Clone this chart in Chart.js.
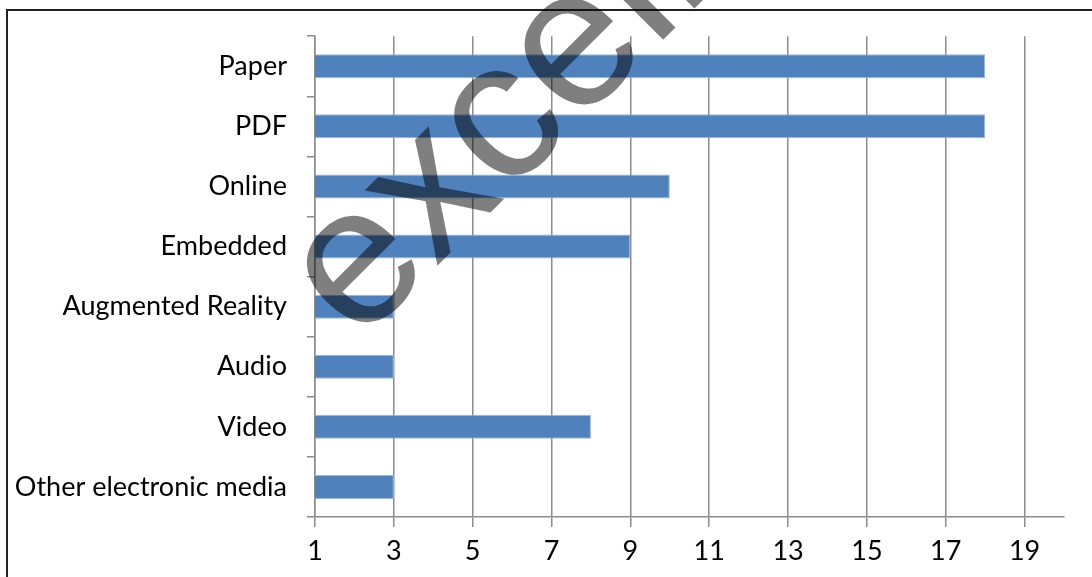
<!DOCTYPE html>
<html>
<head>
<meta charset="utf-8">
<script src="https://cdn.jsdelivr.net/npm/chart.js@4.4.0/dist/chart.umd.min.js"></script>
<style>
  html, body { margin: 0; padding: 0; background: #fff; }
  #wrap { width: 1092px; height: 577px; position: relative; }
</style>
</head>
<body>
<div id="wrap"><canvas id="myChart" width="1092" height="577"></canvas></div>
<script>
const categories = ['Paper', 'PDF', 'Online', 'Embedded', 'Augmented Reality', 'Audio', 'Video', 'Other electronic media'];
const counts = [18, 18, 10, 9, 3, 3, 8, 3];
const xTicks = [1, 3, 5, 7, 9, 11, 13, 15, 17, 19];
const watermark = 'excelnotes';

// frame + watermark drawn straight on the canvas
const extras = {
  id: 'extras',
  beforeDraw(chart) {
    const c = chart.ctx;
    c.save();
    c.fillStyle = '#fff';
    c.fillRect(0, 0, chart.width, chart.height);
    c.restore();
  },
  afterDraw(chart) {
    const c = chart.ctx;
    c.save();
    c.strokeStyle = '#222';
    c.lineWidth = 2;
    c.beginPath();
    c.moveTo(7, chart.height);
    c.lineTo(7, 10);
    c.lineTo(chart.width, 10);
    c.stroke();

    c.translate(358, 345);
    c.rotate(-Math.PI / 4);
    c.font = '198px "Liberation Sans", Arial, sans-serif';
    c.fillStyle = 'rgba(0,0,0,0.5)';
    c.textBaseline = 'alphabetic';
    c.fillText(watermark, 0, 0);
    c.restore();
  }
};

const ctx = document.getElementById('myChart');

new Chart(ctx, {
  type: 'bar',
  data: {
    labels: categories,
    datasets: [{
      data: counts,
      backgroundColor: '#4F81BD',
      borderColor: '#9bb7d9',
      borderWidth: 1,
      borderSkipped: 'start',
      categoryPercentage: 0.8,
      barPercentage: 0.5
    }]
  },
  options: {
    indexAxis: 'y',
    responsive: false,
    animation: false,
    layout: { padding: { top: 34, right: 28, left: 0, bottom: 0 } },
    plugins: { legend: { display: false }, tooltip: { enabled: false } },
    scales: {
      x: {
        min: 1,
        max: 20,
        afterBuildTicks: (axis) => { axis.ticks = xTicks.map(v => ({ value: v })); },
        afterFit: (axis) => { axis.height = 60; },
        grid: { color: '#8c8c8c', lineWidth: 1.5, tickLength: 10, drawTicks: true },
        border: { color: '#8c8c8c', width: 1.5 },
        ticks: { color: '#000', padding: 8, maxRotation: 0, font: { family: 'Lato', size: 27 } }
      },
      y: {
        afterFit: (axis) => { axis.width = 315; },
        grid: { offset: true, drawOnChartArea: false, color: '#8c8c8c', lineWidth: 1.5, tickLength: 8 },
        border: { color: '#8c8c8c', width: 1.5 },
        ticks: { color: '#000', padding: 20, font: { family: 'Lato', size: 27 } }
      }
    }
  },
  plugins: [extras]
});
</script>
</body>
</html>
